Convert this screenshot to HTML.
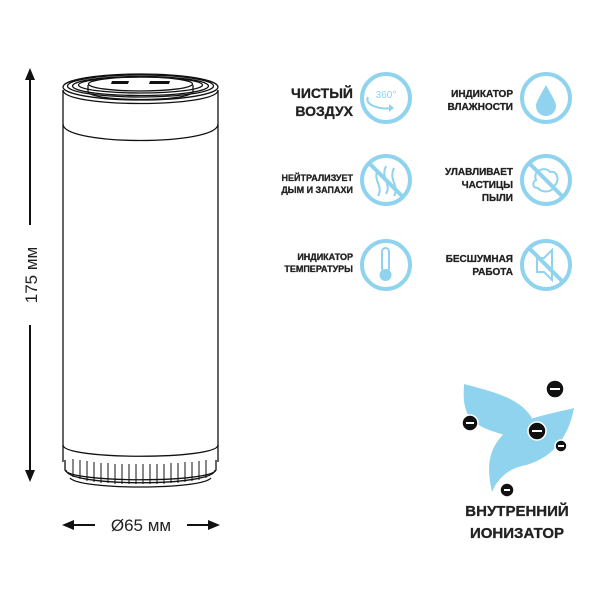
<!DOCTYPE html>
<html><head><meta charset="utf-8"><style>
body{margin:0;background:#fff;width:600px;height:600px;overflow:hidden;font-family:"Liberation Sans","DejaVu Sans",sans-serif}
</style></head><body>
<svg width="600" height="600" viewBox="0 0 600 600" xmlns="http://www.w3.org/2000/svg">
<g fill="none" stroke="#111" stroke-width="1.3">
 <path d="M63 90 L63 462 M218 90 L218 462"/>
 <path d="M63 90 C63 108 218 108 218 90"/>
 <ellipse cx="140.5" cy="87" rx="77.5" ry="13"/>
 <ellipse cx="140.5" cy="86" rx="73" ry="11"/>
 <ellipse cx="140.5" cy="86" rx="68" ry="9.5"/>
 <ellipse cx="140.5" cy="85" rx="62" ry="8"/>
 <ellipse cx="140.5" cy="84" rx="52" ry="7"/>
 <path d="M88 85 L88 92 C93 102 188 102 193 92 L193 85"/>
 <path d="M63 124 C63 146 218 146 218 124"/>
 <path d="M63 445 C63 460 218 460 218 445"/>
 <path d="M65 460 L65 470 C70 483 211 483 216 470 L216 460"/>
 <path d="M66 470 C66 487 215 487 215 470"/>
 <path d="M70 478 C80 490 201 490 211 478"/>
</g>
<path d="M112 81 L129 81 L128 84 L111 84Z M150 81 L170 81 L169 84 L149 84Z" fill="#111"/>
<g stroke="#111" stroke-width="1">
 <line x1="73" y1="459" x2="73" y2="477"/><line x1="80" y1="460" x2="80" y2="479"/><line x1="87" y1="461" x2="87" y2="481"/><line x1="94" y1="462" x2="94" y2="482"/><line x1="101" y1="463" x2="101" y2="483"/><line x1="108" y1="463" x2="108" y2="483"/><line x1="115" y1="464" x2="115" y2="484"/><line x1="122" y1="464" x2="122" y2="484"/><line x1="129" y1="464" x2="129" y2="484"/><line x1="136" y1="464" x2="136" y2="484"/><line x1="143" y1="464" x2="143" y2="484"/><line x1="150" y1="464" x2="150" y2="484"/><line x1="157" y1="464" x2="157" y2="484"/><line x1="164" y1="464" x2="164" y2="484"/><line x1="171" y1="463" x2="171" y2="483"/><line x1="178" y1="463" x2="178" y2="483"/><line x1="185" y1="462" x2="185" y2="482"/><line x1="192" y1="462" x2="192" y2="481"/><line x1="199" y1="461" x2="199" y2="480"/><line x1="206" y1="460" x2="206" y2="478"/>
</g>
<g stroke="#111" stroke-width="2" fill="#111">
 <line x1="30" y1="76" x2="30" y2="225"/><line x1="30" y1="325" x2="30" y2="474"/>
 <path d="M30 68 L25 80 L35 80Z" stroke="none"/><path d="M30 482 L25 470 L35 470Z" stroke="none"/>
 <line x1="70" y1="525" x2="95" y2="525"/><line x1="187" y1="525" x2="212" y2="525"/>
 <path d="M62 525 L74 520 L74 530Z" stroke="none"/><path d="M220 525 L208 520 L208 530Z" stroke="none"/>
</g>
<text transform="translate(37,275) rotate(-90)" text-anchor="middle" font-size="17" fill="#222">175 мм</text>
<text x="141" y="531" text-anchor="middle" font-size="17" fill="#222">Ø65 мм</text>
<g fill="none" stroke="#8fd3ee" stroke-width="4">
 <circle cx="386" cy="98" r="24"/><circle cx="546" cy="98" r="24"/>
 <circle cx="386" cy="180" r="24"/><circle cx="546" cy="180" r="24"/>
 <circle cx="386" cy="265" r="24"/><circle cx="546" cy="265" r="24"/>
 <line x1="369" y1="163" x2="403" y2="197"/><line x1="529" y1="163" x2="563" y2="197"/><line x1="529" y1="248" x2="563" y2="282"/>
</g>
<g fill="none" stroke="#8fd3ee" stroke-width="2">
 <path d="M368 97 C364 105 380 110 392 108"/><path d="M378 170 C372 180 384 186 378 196 M386 166 C380 178 392 184 386 194 M394 168 C388 180 400 186 394 196"/>
 <path d="M536 180 C532 170 546 166 550 172 C558 170 560 182 554 186 C552 194 540 192 538 188 C532 188 532 182 536 180Z"/>
 <path d="M537 258 L544 258 L552 250 L552 280 L544 272 L537 272Z"/>
 <rect x="382" y="248" width="7" height="24" rx="3.5"/>
</g>
<path d="M394 108 L389 104 L389 112Z" fill="#8fd3ee"/>
<text x="386" y="98" text-anchor="middle" font-size="10" fill="#8fd3ee">360°</text>
<path d="M546 85 C540 96 536 102 536 106 A10 10 0 0 0 556 106 C556 102 552 96 546 85Z" fill="#8fd3ee"/>
<circle cx="385.5" cy="275" r="6" fill="#8fd3ee"/>
<g font-weight="bold" fill="#222" text-anchor="end" stroke="#222" stroke-width="0.3">
 <text x="353" y="98" font-size="14">ЧИСТЫЙ</text><text x="353" y="116" font-size="14">ВОЗДУХ</text>
 <text x="513" y="97" font-size="10">ИНДИКАТОР</text><text x="513" y="110" font-size="10">ВЛАЖНОСТИ</text>
 <text x="353" y="181" font-size="9">НЕЙТРАЛИЗУЕТ</text><text x="353" y="193" font-size="9">ДЫМ И ЗАПАХИ</text>
 <text x="513" y="175" font-size="10">УЛАВЛИВАЕТ</text><text x="513" y="188" font-size="10">ЧАСТИЦЫ</text><text x="513" y="201" font-size="10">ПЫЛИ</text>
 <text x="353" y="260" font-size="9">ИНДИКАТОР</text><text x="353" y="272" font-size="9">ТЕМПЕРАТУРЫ</text>
 <text x="513" y="262" font-size="10">БЕСШУМНАЯ</text><text x="513" y="275" font-size="10">РАБОТА</text>
</g>
<path d="M464 384 C494 392 520 398 532 418 L515 438 C495 432 476 428 468 415 C462 402 464 392 464 384Z" fill="#8fd3ee"/>
<path d="M574 408 C552 414 516 418 500 438 C486 455 488 474 492 492 C497 480 506 470 522 466 C550 460 568 440 574 408Z" fill="#8fd3ee"/>
<g fill="#111" stroke="#fff" stroke-width="1.5">
 <circle cx="555" cy="389" r="9"/><circle cx="470" cy="423" r="8"/><circle cx="537" cy="431" r="9"/><circle cx="561" cy="446" r="6"/><circle cx="507" cy="490" r="7"/>
</g>
<g stroke="#fff" stroke-width="2">
 <line x1="550" y1="389" x2="560" y2="389"/><line x1="466" y1="423" x2="474" y2="423"/><line x1="532" y1="431" x2="542" y2="431"/><line x1="558" y1="446" x2="564" y2="446"/><line x1="504" y1="490" x2="510" y2="490"/>
</g>
<g font-weight="bold" fill="#222" font-size="15" text-anchor="middle" stroke="#222" stroke-width="0.3">
 <text x="517" y="516">ВНУТРЕННИЙ</text><text x="517" y="538">ИОНИЗАТОР</text>
</g>
</svg>
</body></html>
